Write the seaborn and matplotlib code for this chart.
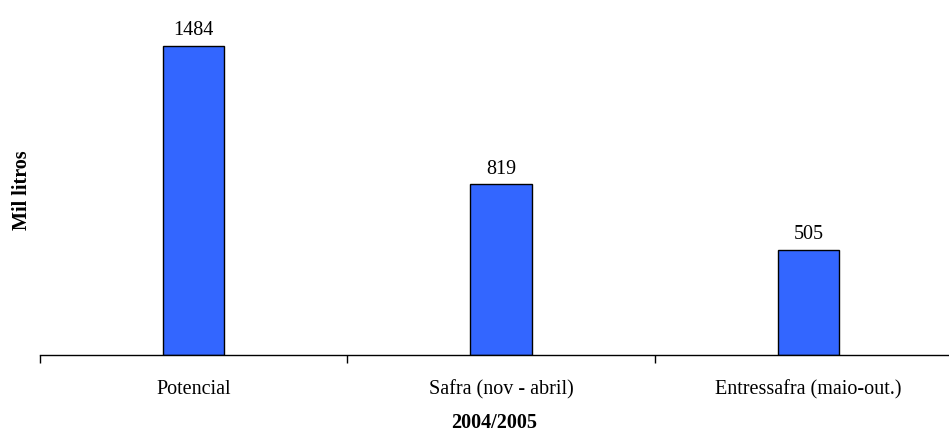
import matplotlib
matplotlib.use("Agg")
import matplotlib.pyplot as plt
import seaborn as sns
import pandas as pd
from matplotlib.ticker import FixedLocator

categories = ["Potencial", "Safra (nov - abril)", "Entressafra (maio-out.)"]
values = [1484, 819, 505]
x_title = "2004/2005"
y_title = "Mil litros"

df = pd.DataFrame({"categoria": categories, "litros": values})

sns.set_theme(style="white")
plt.rcParams["font.family"] = ["Liberation Serif", "DejaVu Serif"]

FS = 14.5
W, H = 949, 432
fig = plt.figure(figsize=(W / 100, H / 100), dpi=100)
ax = fig.add_axes([40 / W, 77 / H, 922 / W, 355 / H])

sns.barplot(data=df, x="categoria", y="litros", color="#3366FF",
            saturation=1, width=0.2, edgecolor="black", linewidth=1.0, ax=ax)

ax.set_xlim(-0.5, 2.5)
ax.set_ylim(0, 1705)

for c in ax.containers:
    ax.bar_label(c, labels=[str(v) for v in values], padding=4,
                 fontsize=FS, color="black")

for side in ["left", "right", "top"]:
    ax.spines[side].set_visible(False)
ax.spines["bottom"].set_color("black")
ax.spines["bottom"].set_linewidth(1.0)

ax.set_yticks([])
ax.tick_params(axis="x", which="major", length=0, pad=18, labelsize=FS,
               labelcolor="black")
ax.xaxis.set_minor_locator(FixedLocator([-0.5, 0.5, 1.5, 2.5]))
ax.tick_params(axis="x", which="minor", length=6, width=1.0, color="black",
               direction="out", bottom=True)

ax.set_xlabel(x_title, fontsize=FS, fontweight="bold", color="black")
ax.set_ylabel(y_title, fontsize=FS, fontweight="bold", color="black")
ax.xaxis.set_label_coords((494 - 40) / 922, -(413 - 355) / 355)
ax.yaxis.set_label_coords((32 - 40) / 922, (355 - 190) / 355)

fig.savefig("out.png", dpi=100, facecolor="white")
